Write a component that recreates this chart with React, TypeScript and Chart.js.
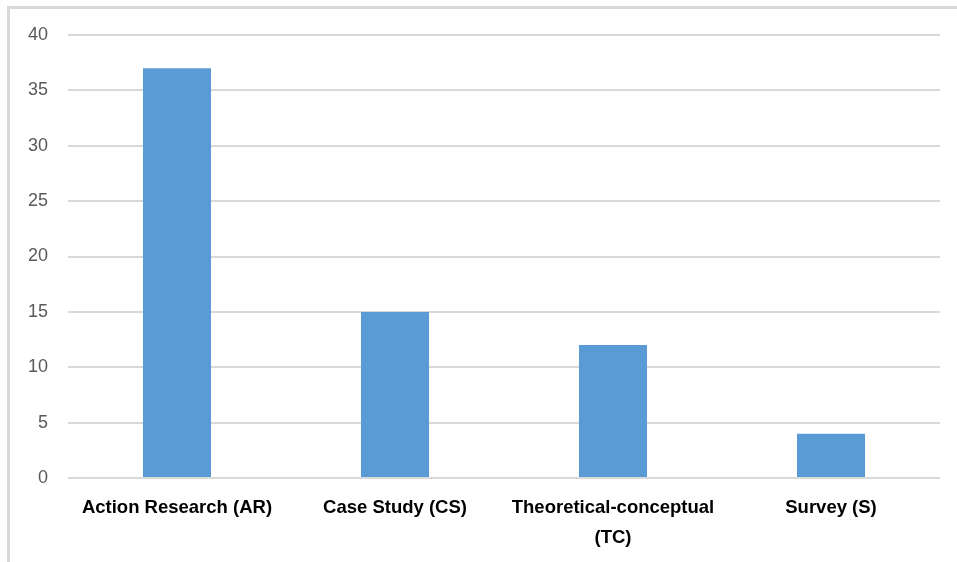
import React, { useEffect, useRef } from "react";
import { Chart, registerables } from "chart.js";

Chart.register(...registerables);

const categories: (string | string[])[] = [
  "Action Research (AR)",
  "Case Study (CS)",
  ["Theoretical-conceptual", "(TC)"],
  "Survey (S)",
];
const counts = [37, 15, 12, 4];
const yTicks = [0, 5, 10, 15, 20, 25, 30, 35, 40];

const BAR_COLOR = "#5b9bd5";
const GRID_COLOR = "#d9d9d9";

export default function App() {
  const canvasRef = useRef<HTMLCanvasElement | null>(null);

  useEffect(() => {
    const canvas = canvasRef.current;
    if (!canvas) return;
    const chart = new Chart(canvas, {
      type: "bar",
      data: {
        labels: categories,
        datasets: [
          {
            data: counts,
            backgroundColor: BAR_COLOR,
            borderWidth: 0,
            categoryPercentage: 1,
            barPercentage: 0.312,
          },
        ],
      },
      options: {
        responsive: false,
        animation: false,
        devicePixelRatio: 1,
        layout: { padding: { top: 35, right: 17, bottom: 0, left: 0 } },
        plugins: {
          legend: { display: false },
          tooltip: { enabled: false },
        },
        scales: {
          x: {
            grid: { display: false, drawTicks: false },
            border: { display: false },
            ticks: {
              color: "#000000",
              padding: 15,
              maxRotation: 0,
              autoSkip: false,
              font: { family: "'Liberation Sans', Arial, sans-serif", size: 18.5, weight: "bold", lineHeight: 1.62 },
            },
            afterFit: (scale: any) => {
              scale.height = 84;
            },
          },
          y: {
            min: 0,
            max: 40,
            afterBuildTicks: (scale: any) => {
              scale.ticks = yTicks.map((v) => ({ value: v }));
            },
            grid: { color: GRID_COLOR, lineWidth: 2, drawTicks: false },
            border: { display: false },
            ticks: {
              color: "#595959",
              padding: 20,
              font: { family: "'Liberation Sans', Arial, sans-serif", size: 18 },
            },
            afterFit: (scale: any) => {
              scale.width = 68;
            },
          },
        },
      },
    });
    return () => chart.destroy();
  }, []);

  return (
    <div
      style={{
        position: "fixed",
        left: 0,
        top: 0,
        width: 957,
        height: 562,
        background: "#ffffff",
        overflow: "hidden",
      }}
    >
      <div
        style={{
          position: "absolute",
          left: 7,
          top: 6,
          width: 1200,
          height: 1200,
          borderTop: `3px solid ${GRID_COLOR}`,
          borderLeft: `3px solid ${GRID_COLOR}`,
        }}
      />
      <canvas
        ref={canvasRef}
        width={957}
        height={562}
        style={{ position: "absolute", left: 0, top: 0, width: 957, height: 562 }}
      />
    </div>
  );
}
